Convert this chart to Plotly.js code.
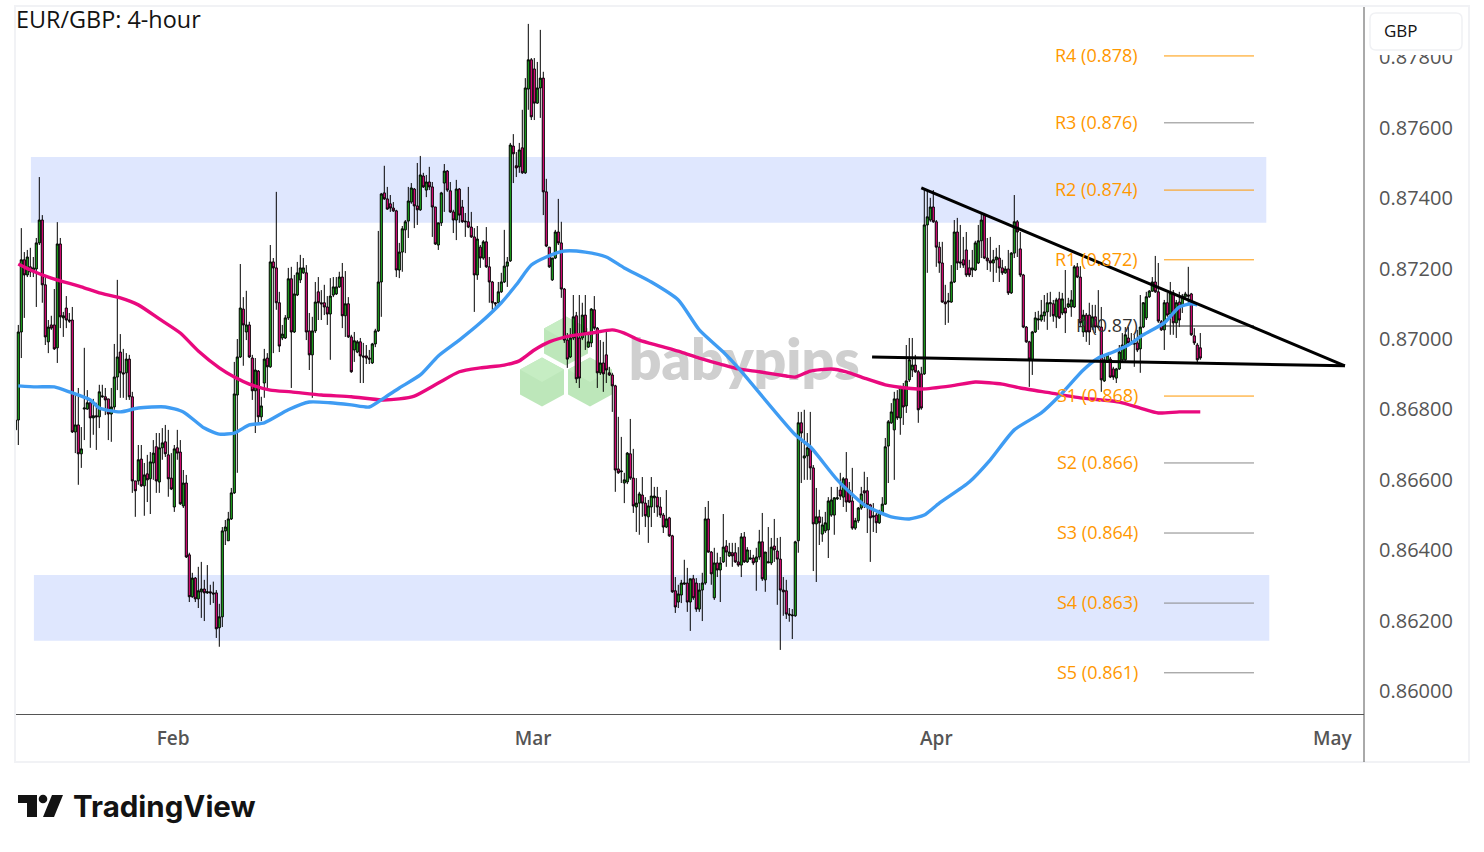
<!DOCTYPE html>
<html><head><meta charset="utf-8">
<script src="https://cdn.plot.ly/plotly-3.0.1.min.js"></script>
<style>html,body{margin:0;padding:0;background:#fff}#c{width:1484px;height:852px}</style>
</head><body><div id="c"></div>
<script>
// prices in 1e-5 GBP, one row = 10 four-hour bars
const highs=[
86799,87040,87315,87247,87253,87259,87233,87287,87460,87352,
87182,87054,87066,87142,87332,87287,87077,87122,87074,87091,
86847,86861,86750,86975,86855,86827,86830,86819,86870,86870,
86861,86830,86861,86986,87168,87014,86972,86960,86955,86850,
86597,86699,86699,86648,86671,86679,86713,86733,86733,86747,
86756,86742,86676,86699,86742,86713,86628,86614,86393,86336,
86324,86353,86367,86316,86358,86302,86311,86287,86248,86466,
86486,86509,86577,86935,87000,87213,87119,87137,87049,86955,
86946,86912,86836,86972,86960,87267,87230,87418,87134,87040,
87068,87202,87205,87182,87219,87239,87230,87210,87074,87063,
87162,87176,87139,87154,87122,87173,87176,87176,87191,87216,
87193,87119,87012,87020,86997,87003,86989,86983,86969,86989,
87029,87307,87415,87492,87432,87409,87389,87367,87273,87321,
87338,87432,87443,87429,87500,87520,87472,87466,87489,87446,
87375,87330,87418,87497,87480,87446,87367,87452,87429,87395,
87358,87432,87361,87315,87321,87267,87281,87318,87233,87165,
87105,87162,87188,87310,87233,87557,87582,87531,87557,87651,
87741,87895,87798,87798,87787,87878,87759,87455,87261,87230,
87310,87398,87333,87145,87017,87031,87125,87077,87125,87103,
87125,87017,87088,87122,87034,86997,86992,87020,86921,86904,
86870,86779,86722,86620,86679,86773,86688,86605,86566,86608,
86551,86543,86608,86580,86580,86551,86506,86571,86495,86444,
86324,86302,86316,86373,86350,86319,86330,86321,86307,86336,
86523,86540,86398,86407,86393,86381,86503,86429,86421,86421,
86421,86409,86449,86452,86409,86401,86387,86407,86458,86506,
86395,86466,86435,86489,86435,86438,86324,86316,86236,86233,
86427,86793,86793,86799,86733,86793,86642,86577,86515,86495,
86509,86551,86580,86551,86580,86620,86608,86679,86594,86634,
86492,86523,86580,86623,86608,86532,86534,86506,86515,86551,
86719,86770,86818,86850,86855,86867,86875,86983,87003,87003,
86955,86912,86921,87423,87423,87401,87423,87338,87276,87276,
87154,87131,87210,87338,87344,87324,87290,87304,87225,87253,
87279,87324,87358,87358,87287,87290,87253,87259,87267,87225,
87207,87253,87247,87409,87338,87304,87185,87037,86995,87023,
87077,87080,87111,87125,87131,87134,87111,87117,87134,87131,
87196,87117,87139,87210,87216,87207,87083,87074,87103,87097,
87097,87139,87091,86955,86960,86949,86921,86918,86983,87017,
87034,87034,87017,87012,87026,87125,87105,87134,87139,87176,
87236,87216,87054,87111,87131,87162,87139,87111,87134,87128,
87134,87205,87131,87031,86989,87017];
const lows=[
86728,86699,86946,87060,87176,87176,87176,87091,87267,87103,
86983,86960,87026,86969,86932,87031,87006,87031,87046,86733,
86676,86586,86634,86713,86799,86691,86728,86685,86747,86833,
86784,86713,86708,86799,86855,86833,86833,86827,86827,86563,
86495,86586,86580,86498,86537,86503,86600,86563,86563,86657,
86665,86552,86571,86509,86657,86529,86520,86378,86253,86265,
86253,86236,86208,86199,86276,86245,86250,86151,86126,86182,
86415,86427,86486,86560,86620,86946,86924,86997,86946,86827,
86733,86762,86767,86833,86861,86918,86960,87083,86963,86997,
87000,87054,86861,87017,87122,87159,87185,86997,86912,86833,
87017,87054,87054,87068,87040,86941,87119,87125,87145,87031,
87006,87003,86904,86935,86960,86875,86875,86929,86929,86929,
86977,87020,87063,87395,87367,87361,87361,87176,87173,87191,
87244,87287,87384,87315,87324,87364,87429,87403,87423,87290,
87267,87253,87321,87361,87418,87358,87301,87281,87330,87330,
87290,87315,87287,87077,87168,87202,87225,87202,87103,87083,
87091,87100,87131,87159,87148,87219,87443,87460,87472,87469,
87469,87651,87622,87622,87668,87628,87352,87261,87202,87165,
87227,87267,87117,86989,86918,86946,86997,86875,86861,86997,
86969,86975,86977,87026,86861,86898,86850,86875,86895,86793,
86566,86617,86591,86534,86588,86600,86506,86452,86444,86495,
86466,86421,86466,86506,86495,86492,86449,86463,86438,86279,
86222,86236,86250,86302,86225,86171,86259,86225,86225,86199,
86302,86393,86302,86259,86324,86253,86364,86353,86381,86353,
86364,86353,86324,86364,86364,86373,86358,86285,86373,86313,
86282,86364,86358,86367,86245,86117,86214,86205,86197,86148,
86211,86393,86591,86600,86600,86600,86341,86310,86415,86424,
86449,86378,86495,86444,86543,86543,86523,86509,86534,86458,
86458,86478,86515,86520,86449,86367,86452,86449,86475,86503,
86529,86591,86759,86600,86770,86728,86756,86790,86878,86892,
86904,86762,86799,86898,87188,87333,87330,87205,87188,87103,
87040,87046,87103,87159,87196,87202,87202,87176,87176,87176,
87193,87213,87230,87227,87196,87191,87162,87188,87162,87182,
87185,87125,87128,87230,87233,87176,87031,86989,86864,86898,
87017,87026,87049,87049,87026,87063,87049,87031,87057,87068,
87017,87088,87063,87088,87173,87034,87006,86992,86983,87026,
87017,87031,86850,86878,86932,86889,86884,86875,86912,86935,
86935,86983,86983,86921,86963,86904,87031,87054,87117,87134,
87131,87046,87023,86969,87063,87012,87012,87003,87034,87074,
87117,87103,87009,86983,86932,86941];
const opens=[
86742,86770,87020,87225,87182,87205,87191,87199,87273,87338,
87154,86992,87040,87040,86975,87270,87060,87088,87054,87054,
86736,86756,86674,86801,86801,86819,86776,86782,86779,86836,
86836,86830,86787,86807,86892,86963,86904,86904,86943,86836,
86597,86597,86659,86583,86617,86603,86648,86694,86594,86691,
86708,86671,86605,86523,86691,86679,86526,86591,86387,86268,
86321,86262,86282,86290,86279,86282,86279,86279,86180,86211,
86455,86427,86489,86563,86841,86949,87085,87020,87040,86946,
86853,86909,86779,86875,86946,86921,87219,87202,87103,87003,
87003,87060,87171,87020,87125,87168,87188,87188,87023,86955,
87023,87134,87103,87103,87091,87071,87125,87128,87148,87176,
87066,87100,87006,86969,86963,86992,86952,86952,86946,86932,
86986,87023,87162,87415,87398,87384,87372,87364,87196,87247,
87310,87335,87389,87426,87378,87367,87463,87423,87446,87432,
87375,87267,87330,87443,87477,87421,87361,87338,87426,87375,
87335,87333,87318,87290,87182,87261,87230,87276,87205,87162,
87103,87103,87134,87162,87207,87222,87548,87492,87489,87543,
87472,87710,87793,87767,87670,87713,87741,87418,87261,87168,
87230,87304,87273,87142,86997,86949,87003,87066,87003,87003,
87068,86977,86989,87083,87031,86904,86932,86955,86904,86898,
86867,86631,86623,86591,86594,86674,86605,86523,86534,86557,
86534,86495,86523,86549,86551,86523,86500,86466,86492,86441,
86285,86253,86273,86304,86307,86253,86319,86307,86233,86287,
86307,86489,86395,86265,86364,86344,86367,86412,86384,86393,
86393,86367,86358,86438,86367,86375,86378,86367,86381,86424,
86316,86364,86364,86412,86398,86375,86287,86285,86219,86214,
86214,86427,86762,86662,86668,86691,86634,86475,86495,86446,
86455,86458,86500,86500,86546,86571,86551,86603,86571,86540,
86463,86484,86520,86569,86569,86529,86498,86500,86478,86506,
86531,86696,86762,86742,86830,86776,86864,86810,86884,86912,
86926,86907,86901,86901,87324,87338,87375,87333,87261,87216,
87105,87105,87105,87162,87304,87219,87225,87253,87202,87196,
87196,87216,87279,87352,87230,87222,87216,87225,87230,87202,
87188,87199,87131,87244,87333,87256,87182,87034,86992,86941,
87020,87054,87054,87066,87077,87100,87100,87063,87114,87074,
87088,87091,87091,87091,87205,87176,87020,87068,87068,87034,
87063,87037,87034,86881,86935,86943,86915,86889,86915,86941,
86941,87003,86989,86989,86989,86972,87034,87060,87120,87136,
87162,87134,87049,87026,87103,87071,87131,87046,87105,87097,
87120,87125,87128,87009,86983,86975];
const closes=[
86770,87020,87225,87182,87233,87191,87202,87273,87338,87154,
87006,87034,87031,86972,87270,87063,87066,87054,87051,86736,
86756,86674,86688,86804,86819,86776,86782,86779,86850,86838,
86827,86787,86807,86892,86949,86904,86901,86943,86836,86597,
86569,86657,86583,86614,86600,86651,86676,86597,86691,86705,
86674,86603,86574,86688,86676,86532,86591,86381,86268,86321,
86262,86285,86290,86279,86282,86279,86276,86177,86211,86455,
86466,86489,86563,86844,86949,87088,87040,87040,86949,86853,
86912,86779,86810,86943,86921,87219,87202,87103,86980,87014,
87060,87171,87020,87128,87188,87202,87202,87020,86955,87023,
87105,87103,87100,87091,87071,87122,87148,87148,87176,87066,
87100,87006,86907,86995,86992,86952,86949,86946,86943,86986,
87023,87162,87412,87398,87369,87372,87364,87196,87247,87313,
87333,87392,87429,87378,87367,87466,87432,87446,87432,87375,
87270,87330,87415,87477,87423,87361,87338,87426,87352,87333,
87333,87318,87290,87182,87284,87230,87276,87205,87162,87103,
87100,87134,87162,87207,87219,87551,87526,87486,87537,87472,
87713,87793,87631,87670,87713,87741,87418,87264,87205,87230,
87304,87273,87142,86997,86943,87003,87063,86887,86889,87068,
87017,86992,87085,87031,86904,86932,86901,86912,86898,86867,
86628,86620,86625,86600,86676,86605,86526,86534,86560,86534,
86498,86526,86554,86554,86523,86500,86466,86489,86441,86282,
86239,86276,86307,86307,86253,86319,86265,86233,86287,86307,
86489,86395,86333,86364,86344,86364,86409,86395,86395,86384,
86367,86358,86438,86367,86401,86378,86364,86381,86424,86319,
86395,86367,86409,86401,86375,86287,86282,86219,86216,86216,
86424,86762,86733,86668,86691,86634,86475,86495,86478,86472,
86478,86540,86543,86549,86549,86554,86603,86537,86537,86463,
86484,86520,86560,86563,86529,86492,86495,86478,86509,86531,
86694,86765,86793,86830,86776,86864,86807,86881,86941,86926,
86907,86799,86804,87324,87347,87375,87333,87261,87216,87105,
87100,87108,87162,87304,87216,87216,87210,87182,87182,87202,
87273,87279,87338,87230,87222,87216,87225,87233,87202,87188,
87199,87131,87244,87333,87304,87182,87034,86992,86943,87020,
87060,87057,87068,87077,87103,87103,87066,87111,87060,87114,
87074,87100,87111,87205,87176,87046,87068,87020,87020,87063,
87034,87034,86884,86941,86955,86892,86892,86915,86963,86983,
87012,86989,86986,86986,86969,87034,87103,87120,87136,87162,
87134,87051,87026,87103,87068,87131,87046,87103,87054,87122,
87128,87122,87012,86989,86941,86946];

// moving averages, read at selected bars
const emaFastBars=[1,7,13,18,25,28,35,41,50,56,63,68,73,78,83,91,98,105,112,118,123,128,135,141,148,155,162,167,172,177,183,190,197,203,212,221,228,236,241,260,265,274,283,292,298,303,308,318,325,333,342,348,356,361,366,371,376,383,388,392,394];
const emaFast=[86867,86864,86864,86850,86827,86804,86793,86804,86807,86793,86747,86730,86733,86756,86762,86799,86821,86819,86813,86807,86833,86861,86898,86952,86997,87046,87103,87154,87210,87233,87250,87247,87233,87202,87162,87111,87026,86963,86918,86728,86694,86600,86529,86495,86489,86500,86534,86594,86657,86742,86790,86838,86912,86946,86963,86983,87012,87046,87091,87100,87097];
const emaSlowBars=[1,5,12,22,28,35,41,48,55,61,68,73,78,85,92,102,112,122,128,133,141,148,155,163,168,173,178,185,192,199,203,208,215,222,228,235,241,248,257,260,265,272,277,283,290,297,302,312,320,329,335,345,355,362,368,375,381,388,395];
const emaSlow=[87213,87196,87173,87148,87131,87117,87097,87057,87017,86966,86918,86892,86872,86855,86850,86841,86836,86827,86830,86838,86875,86907,86918,86926,86938,86969,86992,87009,87017,87026,87017,86997,86980,86963,86946,86929,86915,86907,86895,86892,86909,86915,86907,86889,86870,86861,86858,86867,86878,86872,86861,86847,86833,86827,86821,86804,86790,86793,86793];

// pivot levels
const pivotNames=["R4 (0.878)","R3 (0.876)","R2 (0.874)","R1 (0.872)","P (0.87)","S1 (0.868)","S2 (0.866)","S3 (0.864)","S4 (0.863)","S5 (0.861)"];
const pivotPrices=[87804,87614,87423,87225,87037,86838,86648,86449,86250,86052];
const pivotLineColors=["#ff9800","#888888","#ff9800","#ff9800","#222222","#ff9800","#888888","#888888","#888888","#888888"];
const pivotTextColors=["#ff9800","#ff9800","#ff9800","#ff9800","#333333","#ff9800","#ff9800","#ff9800","#ff9800","#ff9800"];

// trend lines
const fallingBars=[302,443.2], fallingPrices=[87429,86924];
const flatBars=[285.6,443.2], flatPrices=[86949,86924];

// supply and demand zones
const zoneBars=[[5.2,417],[6.2,418]];
const zonePrices=[[87517,87330],[86330,86143]];

const monthLabels=["Feb","Mar","Apr","May"], monthBars=[52.6,172.6,307,439];
const priceTicks=[0.86,0.862,0.864,0.866,0.868,0.87,0.872,0.874,0.876,0.878];

const U=v=>v/100000;
const bars=opens.map((_,i)=>i);
const W=1484,H=852,L=15,R=1364,T=7,B=714;
const px=x=>(x-L)/(R-L), py=y=>(B-y)/(B-T);
const poly=pts=>'M'+pts.map(p=>px(p[0])+','+py(p[1])).join('L')+'Z';
const paper=(o)=>Object.assign({xref:'paper',yref:'paper'},o);

function hex(cx,cy){
  const a=22,b=24.5,c=12.5;
  return [
   paper({type:'path',layer:'below',line:{width:0},fillcolor:'#bde7ba',path:poly([[cx,cy-b],[cx+a,cy-c],[cx+a,cy+c],[cx,cy+b],[cx-a,cy+c],[cx-a,cy-c]])}),
   paper({type:'path',layer:'below',line:{width:0},fillcolor:'#c6edc3',path:poly([[cx,cy-b],[cx+a,cy-c],[cx,cy],[cx-a,cy-c]])})
  ];
}
const shapes=[
 ...zoneBars.map((z,k)=>({type:'rect',layer:'below',xref:'x',yref:'y',x0:z[0],x1:z[1],y0:U(zonePrices[k][0]),y1:U(zonePrices[k][1]),fillcolor:'#dfe7fe',line:{width:0}})),
 ...hex(566,341),...hex(542,382),...hex(590,382),
 paper({type:'rect',layer:'above',x0:px(15),x1:px(1469),y0:py(762),y1:py(6),line:{color:'#f1f2f5',width:2}}),
 paper({type:'line',layer:'above',x0:px(1364),x1:px(1364),y0:py(762),y1:py(7),line:{color:'#555',width:1}}),
 paper({type:'rect',layer:'above',fillcolor:'#ffffff',line:{width:0},x0:px(1370),x1:px(1463),y0:py(55),y1:py(45)}),
 paper({type:'path',layer:'above',fillcolor:'#ffffff',line:{color:'#f0f1f4',width:1.5},
   path:`M${px(1376)},${py(13)}L${px(1456)},${py(13)}Q${px(1462)},${py(13)} ${px(1462)},${py(19)}L${px(1462)},${py(44)}Q${px(1462)},${py(50)} ${px(1456)},${py(50)}L${px(1376)},${py(50)}Q${px(1370)},${py(50)} ${px(1370)},${py(44)}L${px(1370)},${py(19)}Q${px(1370)},${py(13)} ${px(1376)},${py(13)}Z`}),
 paper({type:'path',layer:'above',fillcolor:'#131313',line:{width:0},path:poly([[18,795],[37,795],[37,817],[27,817],[27,803],[18,803]])}),
 paper({type:'circle',layer:'above',fillcolor:'#131313',line:{width:0},x0:px(38.7),x1:px(47.3),y0:py(803.3),y1:py(794.7)}),
 paper({type:'path',layer:'above',fillcolor:'#131313',line:{width:0},path:poly([[52,795],[63,795],[54,817],[43,817]])})
];

const traces=[
 {type:'scatter',mode:'text',x:[243],y:[0.86924],text:['babypips'],textposition:'middle center',
  textfont:{family:'Lato, sans-serif',size:57,color:'#cfcfcf',weight:800},hoverinfo:'skip',showlegend:false},
 {type:'candlestick',x:bars,open:opens.map(U),high:highs.map(U),low:lows.map(U),close:closes.map(U),whiskerwidth:0,
  increasing:{line:{color:'#000',width:1},fillcolor:'#1fb01f'},decreasing:{line:{color:'#000',width:1},fillcolor:'#f00a82'},showlegend:false},
 {type:'scatter',mode:'lines',x:emaSlowBars,y:emaSlow.map(U),line:{color:'#e9097e',width:3.4,shape:'spline',smoothing:0.6},showlegend:false},
 {type:'scatter',mode:'lines',x:emaFastBars,y:emaFast.map(U),line:{color:'#3f9cf3',width:3.4,shape:'spline',smoothing:0.6},showlegend:false},
 ...pivotPrices.map((p,k)=>({type:'scatter',mode:'lines',x:[382.9,412.9],y:[U(p),U(p)],
    line:{color:pivotLineColors[k],width:1},showlegend:false})),
 {type:'scatter',mode:'lines',x:fallingBars,y:fallingPrices.map(U),line:{color:'#000',width:3},showlegend:false},
 {type:'scatter',mode:'lines',x:flatBars,y:flatPrices.map(U),line:{color:'#000',width:3},showlegend:false}
];

const annotations=[
 ...pivotNames.map((t,k)=>({xref:'x',yref:'y',x:375,y:U(pivotPrices[k]),yshift:1,text:t,showarrow:false,xanchor:'right',yanchor:'middle',
   font:{family:'Open Sans, sans-serif',size:18,color:pivotTextColors[k]}})),
 paper({x:px(14),y:py(19),text:'EUR/GBP: 4-hour',showarrow:false,xanchor:'left',yanchor:'middle',font:{family:'Open Sans, sans-serif',size:23.4,color:'#131313'}}),
 paper({x:px(1382),y:py(30),text:'GBP',showarrow:false,xanchor:'left',yanchor:'middle',font:{family:'Open Sans, sans-serif',size:17,color:'#131313'}}),
 paper({x:px(71),y:py(806),text:'<b>TradingView</b>',showarrow:false,xanchor:'left',yanchor:'middle',font:{family:'Inter, sans-serif',size:29.5,color:'#131313'}})
];

Plotly.newPlot('c',traces,{
 width:W,height:H,margin:{l:L,r:W-R,t:T,b:H-B,pad:0},paper_bgcolor:'#fff',plot_bgcolor:'#fff',showlegend:false,boxgap:0,
 xaxis:{type:'linear',range:[-0.1,449.57],showgrid:false,zeroline:false,showline:true,linecolor:'#555',linewidth:1,
   tickmode:'array',tickvals:monthBars,ticktext:monthLabels,ticks:'',ticklabelstandoff:7,
   tickfont:{family:'Open Sans, sans-serif',size:19,color:'#555',weight:600},rangeslider:{visible:false}},
 yaxis:{type:'linear',side:'right',range:[0.85935,0.87943],showgrid:false,zeroline:false,showline:false,
   tickmode:'array',tickvals:priceTicks,ticktext:priceTicks.map(v=>v.toFixed(5)),ticks:'',ticklabelstandoff:14,
   tickfont:{family:'Open Sans, sans-serif',size:20,color:'#555'}},
 shapes,annotations
},{staticPlot:true,displayModeBar:false});
</script></body></html>
